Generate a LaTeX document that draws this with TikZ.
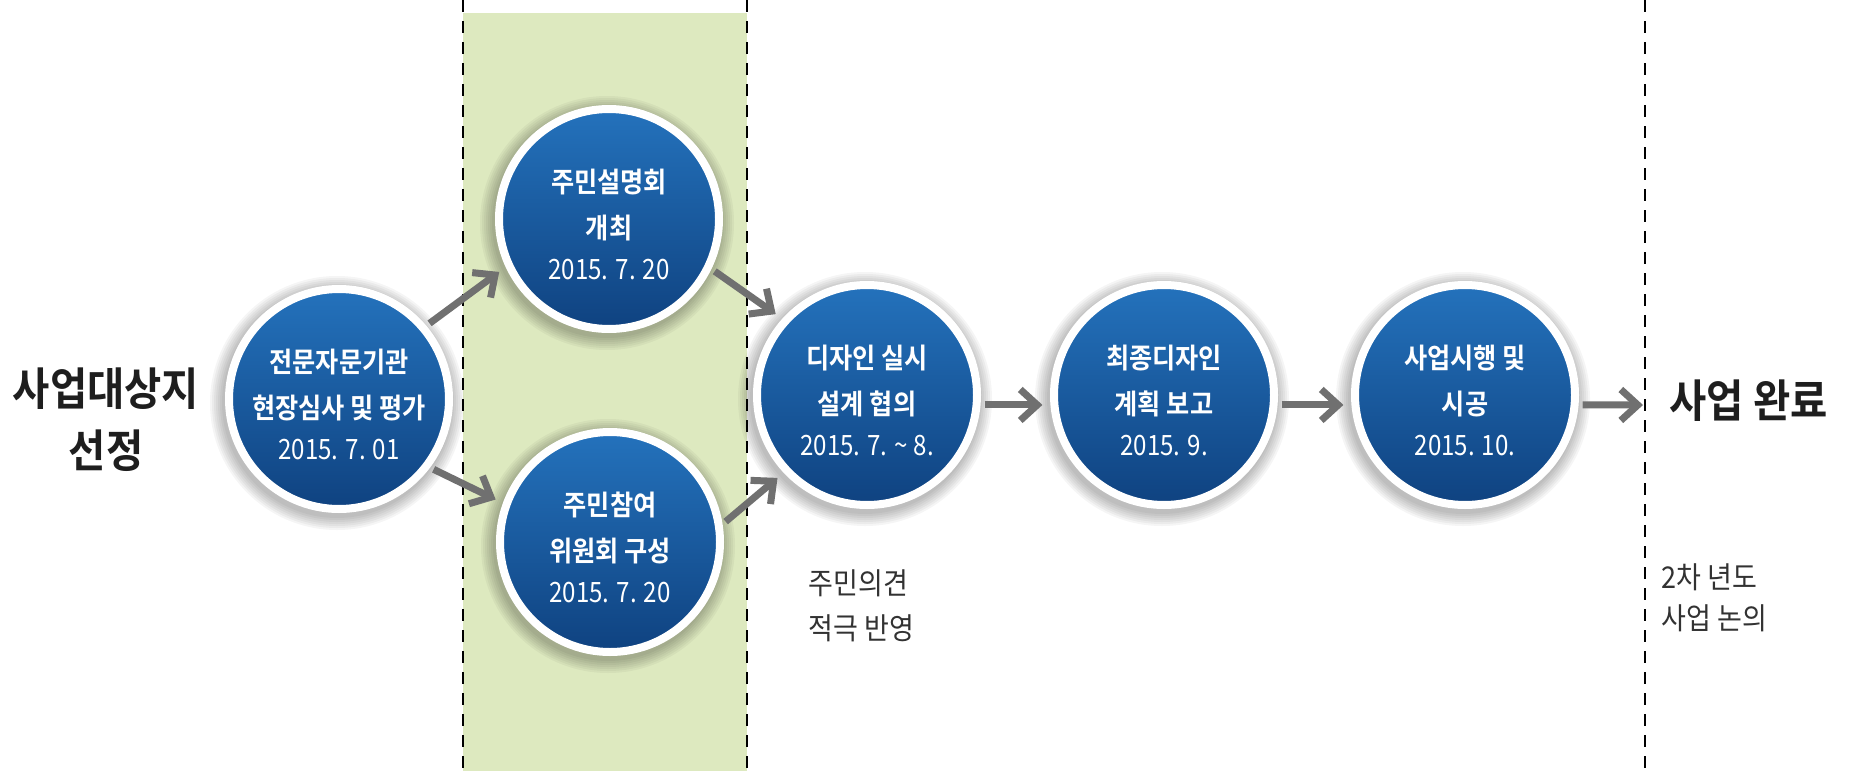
\documentclass[tikz,border=0pt]{standalone}
\usepackage{fontspec}
\usepackage{graphicx}
\setmainfont{Noto Sans CJK KR}[BoldFont={Noto Sans CJK KR Bold}]
\usetikzlibrary{arrows.meta}
\definecolor{band}{RGB}{221,233,191}
\definecolor{arr}{RGB}{112,112,112}
\definecolor{bluetop}{RGB}{36,114,188}
\definecolor{bluebot}{RGB}{15,66,128}
\definecolor{ink}{RGB}{30,30,30}
\definecolor{note}{RGB}{50,50,50}
\newcommand\mydate[1]{\scalebox{0.86}[1]{\fontsize{28}{30}\selectfont\mdseries #1}}
\newcommand\cl[1]{\scalebox{0.9}[1]{#1\hspace{0pt}}}
\newcommand\tl[1]{\scalebox{0.9}[1]{#1}}
\begin{document}
\begin{tikzpicture}[x=1pt,y=-1pt,
  circ/.style={circle, minimum size=220pt, inner sep=0pt, draw=white, line width=8pt, top color=bluetop, bottom color=bluebot},
  ctext/.style={text=white, align=center, font=\fontsize{28}{46}\selectfont\bfseries},
  conn/.style={draw=arr, line width=7pt, -{Straight Barb[length=17pt,width=31pt,line cap=butt,line join=miter]}, shorten <=4pt, shorten >=8pt},
  vline/.style={black, line width=2.6pt, dash pattern=on 12pt off 9pt},
  bigtitle/.style={text=ink, font=\fontsize{45}{62}\selectfont\bfseries, align=center},
  notetext/.style={text=note, font=\fontsize{30}{45}\selectfont, align=left}
]
\useasboundingbox (0,0) rectangle (1849,771);
\fill[white] (0,0) rectangle (1849,771);
% band and dashed lines
\fill[band] (463,13) rectangle (747,771);
\draw[vline] (463,0) -- (463,771);
\draw[vline] (747,0) -- (747,771);
\draw[vline] (1645,0) -- (1645,771);
% positions
\coordinate (p1) at (339,399);
\coordinate (p2) at (609,219);
\coordinate (p3) at (610,542);
\coordinate (p4) at (867,395);
\coordinate (p5) at (1164,395);
\coordinate (p6) at (1465,395);
% soft shadows
\foreach \p in {p1,p2,p3,p4,p5,p6}{
  \foreach \r in {115,117,...,127}{
    \fill[black,opacity=0.04] ([xshift=-2pt,yshift=-4pt]\p) circle[radius=\r pt];
  }
}
% circles
\node[circ] (c1) at (p1) {};
\node[circ] (c2) at (p2) {};
\node[circ] (c3) at (p3) {};
\node[circ] (c4) at (p4) {};
\node[circ] (c5) at (p5) {};
\node[circ] (c6) at (p6) {};
% circle texts
\node[ctext] (t1) at ([yshift=-5pt]c1) {\cl{전문자문기관}\\\cl{현장심사 및 평가}\\[-5pt]\mydate{2015. 7. 01}};
\node[ctext] (t2) at ([yshift=-5pt]c2) {\cl{주민설명회}\\\cl{개최}\\[-5pt]\mydate{2015. 7. 20}};
\node[ctext] (t3) at ([yshift=-5pt]c3) {\cl{주민참여}\\\cl{위원회 구성}\\[-5pt]\mydate{2015. 7. 20}};
\node[ctext] (t4) at ([yshift=-5pt]c4) {\cl{디자인 실시}\\\cl{설계 협의}\\[-5pt]\mydate{2015. 7. \textasciitilde\ 8.}};
\node[ctext] (t5) at ([yshift=-5pt]c5) {\cl{최종디자인}\\\cl{계획 보고}\\[-5pt]\mydate{2015. 9.}};
\node[ctext] (t6) at ([yshift=-5pt]c6) {\cl{사업시행 및}\\\cl{시공}\\[-5pt]\mydate{2015. 10.}};
% connectors
\coordinate (endpt) at (1645,405);
\draw[conn] (c1.40) -- (c2.205);
\draw[conn] (c1.-37) -- (c3.160);
\draw[conn] (c2.-26) -- (c4.138);
\draw[conn] (c3.9) -- (c4.-137);
\draw[conn] (c4.-5) -- (c5.185);
\draw[conn] (c5.-5) -- (c6.185);
\draw[conn, shorten >=2pt] (c6.-5) -- (endpt);
% outer texts
\node[bigtitle] (lt) at (106,420) {\tl{사업대상지}\\\tl{선정}};
\node[bigtitle, anchor=west] (done) at (1666,401) {\tl{사업 완료}};
\node[notetext, anchor=west] (n1) at (805,606) {\tl{주민의견}\\\tl{적극 반영}};
\node[notetext, anchor=west, font=\fontsize{30}{41}\selectfont] (n2) at (1658,598) {\tl{2차 년도}\\\tl{사업 논의}};
\end{tikzpicture}
\end{document}
